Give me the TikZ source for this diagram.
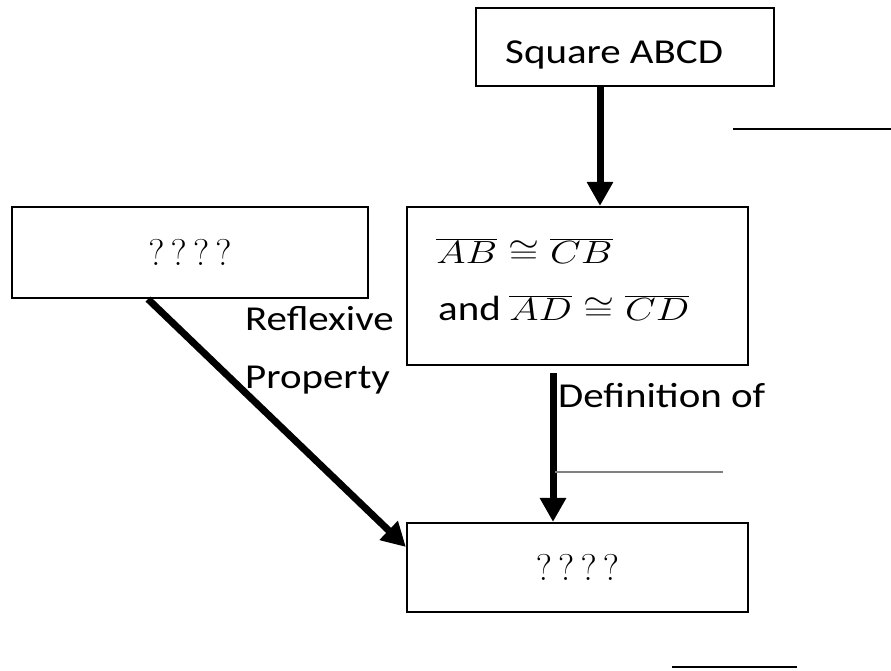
\documentclass[tikz,border=0pt]{standalone}
\usepackage{fontspec}
\setsansfont{Carlito}[FakeStretch=1.17]
\usetikzlibrary{arrows.meta}

\tikzset{
  box/.style={draw, line width=2.2pt, inner sep=0pt},
  lbl/.style={font=\sffamily\fontsize{35}{42}\selectfont, inner sep=0pt},
  % math fonts stop at \Huge, so scale the node instead
  eqn/.style={font=\Huge, inner sep=0pt, xscale=1.6, yscale=1.29},
  qmarks/.style={font=\Huge},
  steparrow/.style={line width=7pt, -{Triangle[width=25pt,length=24pt]}},
  blank/.style={line width=2pt},
}

\begin{document}
\begin{tikzpicture}[x=1pt,y=-1pt]
  \useasboundingbox (0,0) rectangle (891,670);

  % boxes
  \node[box, minimum width=298pt, minimum height=78pt] (sq) at (625,47) {};
  \node[lbl, anchor=base west] (sqt) at (505,63) {Square ABCD};
  \node[box, minimum width=356pt, minimum height=91pt] (lft) at (190,252.5) {};
  \node[qmarks, scale=1.5] (lftq) at (lft.center) {$?\,?\,?\,?$};
  \node[box, minimum width=341pt, minimum height=158pt] (mid) at (577.5,286) {};
  \node[eqn, anchor=base west] (eq1) at (436,263) {$\overline{AB}\cong\overline{CB}$};
  \node[lbl, anchor=base west] (andw) at (438,320) {and};
  \node[eqn, anchor=base west] (eq2) at (509,320) {$\overline{AD}\cong\overline{CD}$};
  \node[box, minimum width=341pt, minimum height=89pt] (bot) at (577.5,567.5) {};
  \node[qmarks, scale=1.5] (botq) at (bot.center) {$?\,?\,?\,?$};

  % reasons
  \node[lbl, anchor=base west] (refl) at (245,330) {Reflexive};
  \node[lbl, anchor=base west] (prop) at (245,388) {Property};
  \node[lbl, anchor=base west] (defn) at (558,407) {Definition of};

  % arrows
  \draw[steparrow] ([xshift=-25pt]sq.south) -- ([xshift=-25pt]sq.south |- mid.north);
  \draw[steparrow, shorten <=7pt] ([xshift=-24.5pt]mid.south) -- ([xshift=-24.5pt]mid.south |- bot.north);
  \draw[steparrow] ([xshift=-42pt]lft.south) -- ([yshift=20.5pt]bot.west);

  % blanks to fill in
  \draw[blank] (733,129) -- (891,129);
  \draw[blank, line width=1.5pt, gray] (555,472) -- (723,472);
  \draw[blank] (672,667) -- (797,667);
\end{tikzpicture}
\end{document}
